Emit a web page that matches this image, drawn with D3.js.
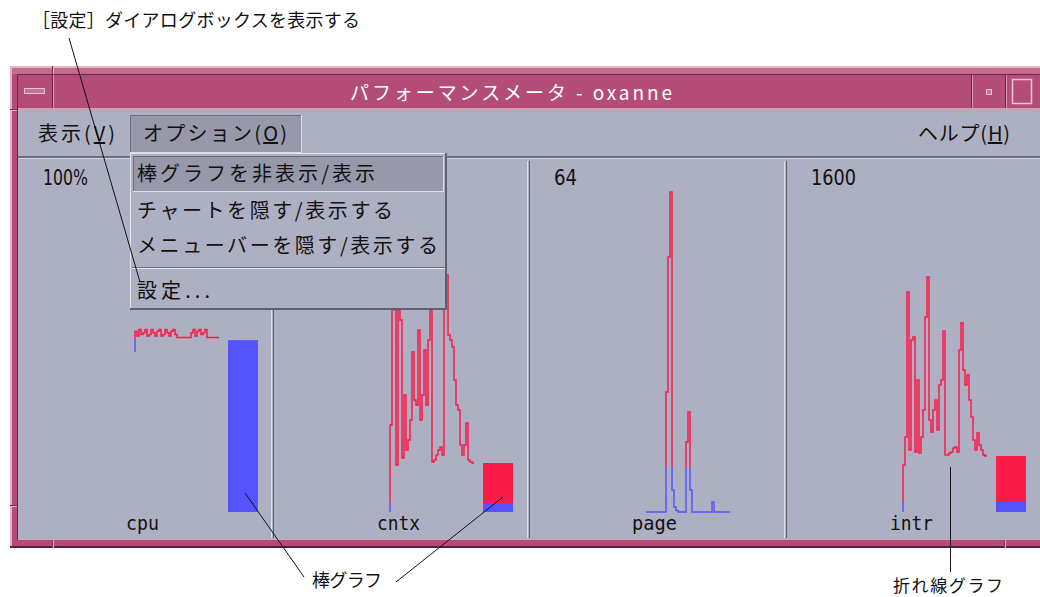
<!DOCTYPE html>
<html><head><meta charset="utf-8">
<script src="https://cdn.jsdelivr.net/npm/d3@7"></script>
<style>body{margin:0;background:#fff}svg{display:block}</style>
</head><body>
<svg id="c" width="1040" height="597"></svg>
<script>
// ---------- data ----------
const panelNames = ["cpu", "cntx", "page", "intr"];
const maxLabels = ["100%", "", "64", "1600"];
const maxValues = [100, 1600, 64, 1600];
const thresholds = [54, 45, 9, 50];
const barValues = [53.7, 245, 0, 280];
const cpuValues = [50,56.5,55,57,55.5,56,57,55,55.5,57,56,55,56.5,57,55,55.5,57,56,55,56.5,57,55.5,54.5,54.5,54.5,54.5,54.5,54.5,54.5,56,57,55,56.5,57,55.5,56,57,54.5,54.5,54.5,54.5,54.5,54.5];
const cntxValues = [0,435,1035,1010,235,1010,960,270,585,310,360,460,800,560,535,910,460,585,810,535,860,1010,250,260,285,310,325,285,1060,1185,885,860,825,660,535,510,335,285,335,445,260,250,245];
const pageValues = [0,0,0,0,0,0,0,0,0,0,0,24,51,64,4.4,1,0.3,0,0,0,0,14,20,4.4,0,0,0,0,0,0,0,0,0,0,2,0,0,0,0,0,0,0,0];
const intrValues = [0,235,375,1100,310,860,875,300,660,295,375,510,975,1175,460,400,510,560,410,635,660,905,285,285,295,300,320,325,300,810,945,710,635,685,560,475,360,310,395,335,310,285,280];
const seriesList = [cpuValues, cntxValues, pageValues, intrValues];

const titleText = "パフォーマンスメータ - oxanne";
const menuBarItems = [["表示(", "V", ")"], ["オプション(", "O", ")"], ["ヘルプ(", "H", ")"]];
const dropdownItems = ["棒グラフを非表示/表示", "チャートを隠す/表示する", "メニューバーを隠す/表示する", "設定..."];
const calloutTexts = ["［設定］ダイアログボックスを表示する", "棒グラフ", "折れ線グラフ"];

// ---------- styles ----------
const RED = "#fb1a48", BLUE = "#5454ff";
const BG = "#adb0c2", HILITE = "#9799ab", PINK = "#b34d78";
const JP = "'Noto Sans CJK JP', 'Noto Sans', sans-serif";
const LAT = "'DejaVu Sans', sans-serif";
const MONO = "'DejaVu Sans Mono', monospace";

const svg = d3.select("#c");
const R = (x, y, w, h, f, p = svg) => p.append("rect").attr("x", x).attr("y", y).attr("width", w).attr("height", h).attr("fill", f);

// ---------- window frame ----------
R(10, 66, 1030, 482, PINK);
R(10, 66, 1030, 2, "#e6b4c9");
R(10, 66, 2, 482, "#e6b4c9");
R(10, 546, 1030, 2, "#5c1c3a");
R(12, 68, 1028, 6, "#c26a90");
R(52, 66, 1, 8, "#7a2c50"); R(53, 66, 1, 8, "#e6b4c9");
R(52, 540, 1, 8, "#7a2c50"); R(53, 540, 1, 8, "#e6b4c9");
R(1004, 540, 1, 8, "#7a2c50"); R(1005, 540, 1, 8, "#e6b4c9");
R(10, 109, 8, 1, "#7a2c50"); R(10, 110, 8, 1, "#e6b4c9");
R(10, 505, 8, 1, "#7a2c50"); R(10, 506, 8, 1, "#e6b4c9");

// title bar
R(18, 74, 1022, 35, PINK);
R(18, 74, 1022, 1, "#6e2246");
R(17, 74, 1, 466, "#6e2246");
R(18, 108, 1022, 2, "#d79ab5");
R(52, 75, 1, 33, "#6e2246"); R(53, 75, 1, 33, "#d79ab5");
R(24, 88, 21, 6, "#e9bfd1"); R(25, 89, 19, 4, "#c07595");
R(971, 75, 1, 33, "#6e2246"); R(972, 75, 1, 33, "#d79ab5");
R(1005, 75, 1, 33, "#6e2246"); R(1006, 75, 1, 33, "#d79ab5");
R(986, 89, 6, 6, "#e9bfd1"); R(987, 90, 4, 4, "#c07595");
svg.append("rect").attr("x", 1012.5).attr("y", 79.5).attr("width", 19).attr("height", 24)
  .attr("fill", "none").attr("stroke", "#ecc8d7").attr("stroke-width", 1.5);

svg.append("text").attr("x", 511).attr("y", 100).attr("text-anchor", "middle")
  .attr("font-family", JP).attr("font-size", 19).attr("fill", "#fff")
  .attr("textLength", 322).attr("lengthAdjust", "spacing").text(titleText);

// content area
R(18, 110, 1022, 430, BG);
R(18, 539, 1022, 1, "#d9a4bc");
R(18, 156, 1022, 2, "#6c6e7e");
R(18, 158, 1022, 1, "#d6d8e2");
R(130, 115, 172, 38, HILITE);
R(130, 115, 172, 1, "#6c6e7e"); R(130, 115, 1, 38, "#6c6e7e");
R(130, 152, 172, 1, "#dcdee8"); R(301, 115, 1, 38, "#dcdee8");

function menuText(parts, x, y, len) {
  const t = svg.append("text").attr("x", x).attr("y", y).attr("font-family", JP)
    .attr("font-size", 20).attr("fill", "#111")
    .attr("textLength", len).attr("lengthAdjust", "spacing");
  t.append("tspan").text(parts[0]);
  t.append("tspan").style("text-decoration", "underline").text(parts[1]);
  t.append("tspan").text(parts[2]);
}
menuText(menuBarItems[0], 38, 141, 77);
menuText(menuBarItems[1], 143, 141, 144);
menuText(menuBarItems[2], 918, 141, 92);

// ---------- panels ----------
const panelX = [17, 272, 528, 785];
const topLabelLen = [45, 0, 23, 45];
const nameX = [109, 105, 104, 105];
const nameLen = [33, 43, 45, 43];
const x = d3.scaleLinear().domain([0, 42]).range([118, 202]);

panelNames.forEach((name, k) => {
  const g = svg.append("g").attr("transform", `translate(${panelX[k]},0)`);
  if (k > 0) {
    R(-1, 161, 1, 377, "#e0e2ea", g);
    R(1, 161, 1, 377, "#5e6070", g);
  }
  const y = d3.scaleLinear().domain([0, maxValues[k]]).range([512, 192]);
  const thrY = y(thresholds[k]);
  const idB = "clipB" + k, idR = "clipR" + k;
  const defs = g.append("defs");
  defs.append("clipPath").attr("id", idB).append("rect")
    .attr("x", 0).attr("y", thrY).attr("width", 255).attr("height", 530 - thrY);
  defs.append("clipPath").attr("id", idR).append("rect")
    .attr("x", 0).attr("y", 150).attr("width", 255).attr("height", thrY - 150);

  const line = d3.line().x((d, i) => x(i)).y(d => y(d)).curve(d3.curveStepBefore);
  const data = seriesList[k];
  g.append("path").datum(data).attr("d", line).attr("fill", "none")
    .attr("stroke", BLUE).attr("stroke-width", 1.5).attr("clip-path", `url(#${idB})`);
  g.append("path").datum(data).attr("d", line).attr("fill", "none")
    .attr("stroke", RED).attr("stroke-width", 1.5).attr("clip-path", `url(#${idR})`);

  const bv = barValues[k];
  if (bv > 0) {
    const low = Math.min(bv, thresholds[k]);
    g.append("rect").attr("x", 211).attr("width", 30).attr("y", y(low)).attr("height", y(0) - y(low)).attr("fill", BLUE);
    if (bv > thresholds[k]) {
      g.append("rect").attr("x", 211).attr("width", 30).attr("y", y(bv)).attr("height", y(thresholds[k]) - y(bv)).attr("fill", RED);
    }
  }
  if (maxLabels[k]) {
    g.append("text").attr("x", 26).attr("y", 185).attr("font-family", LAT).attr("font-size", 21)
      .attr("fill", "#111").attr("textLength", topLabelLen[k]).attr("lengthAdjust", "spacingAndGlyphs")
      .text(maxLabels[k]);
  }
  g.append("text").attr("x", nameX[k]).attr("y", 530).attr("font-family", MONO)
    .attr("font-size", 19).attr("fill", "#111").attr("textLength", nameLen[k])
    .attr("lengthAdjust", "spacingAndGlyphs").text(name);
});

// ---------- dropdown menu ----------
R(130, 153, 317, 157, BG);
R(130, 153, 317, 1, "#e4e6ee"); R(130, 153, 1, 157, "#e4e6ee");
R(130, 308, 317, 2, "#5e6070"); R(445, 153, 2, 157, "#5e6070");
R(133, 156, 311, 36, HILITE);
R(133, 156, 311, 1, "#6c6e7e"); R(133, 156, 1, 36, "#6c6e7e");
R(133, 191, 311, 1, "#dcdee8"); R(443, 156, 1, 36, "#dcdee8");
R(132, 267, 313, 1, "#6c6e7e"); R(132, 268, 313, 1, "#e4e6ee");
const itemY = [181, 218, 253, 298];
const itemLen = [238, 256, 301, 73];
dropdownItems.forEach((s, i) => {
  svg.append("text").attr("x", 137).attr("y", itemY[i]).attr("font-family", JP).attr("font-size", 20)
    .attr("fill", "#111").attr("textLength", itemLen[i]).attr("lengthAdjust", "spacing").text(s);
});

// ---------- callouts ----------
const L = (x1, y1, x2, y2) => svg.append("line").attr("x1", x1).attr("y1", y1).attr("x2", x2).attr("y2", y2)
  .attr("stroke", "#111").attr("stroke-width", 1);
L(69, 38, 140, 282);
L(245, 493, 304, 577);
L(503, 497, 396, 582);
L(950.5, 467, 950.5, 572);
svg.append("text").attr("x", 32).attr("y", 27).attr("font-family", JP).attr("font-size", 18).attr("fill", "#111")
  .attr("textLength", 328).attr("lengthAdjust", "spacing").text(calloutTexts[0]);
svg.append("text").attr("x", 312).attr("y", 587).attr("font-family", JP).attr("font-size", 18).attr("fill", "#111")
  .attr("textLength", 70).attr("lengthAdjust", "spacing").text(calloutTexts[1]);
svg.append("text").attr("x", 893).attr("y", 592).attr("font-family", JP).attr("font-size", 17).attr("fill", "#111")
  .attr("textLength", 110).attr("lengthAdjust", "spacing").text(calloutTexts[2]);
</script>
</body></html>
